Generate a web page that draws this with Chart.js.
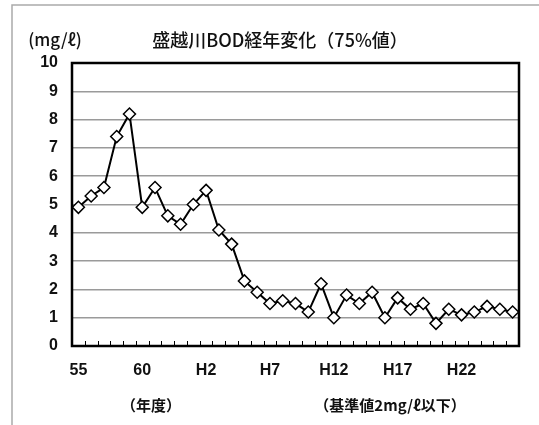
<!DOCTYPE html>
<html>
<head>
<meta charset="utf-8">
<script src="https://cdn.jsdelivr.net/npm/chart.js@4"></script>
<style>
  html, body { margin: 0; padding: 0; background: #fff; }
  #wrap { width: 539px; height: 425px; position: relative; }
</style>
</head>
<body>
<div id="wrap"><canvas id="bodChart" width="539" height="425"></canvas></div>
<script>
// fiscal years S55 .. H26
const years = ["55", "56", "57", "58", "59", "60", "61", "62", "63",
  "H1", "H2", "H3", "H4", "H5", "H6", "H7", "H8", "H9", "H10", "H11",
  "H12", "H13", "H14", "H15", "H16", "H17", "H18", "H19", "H20", "H21",
  "H22", "H23", "H24", "H25", "H26"];
// BOD 75% value (mg/l)
const bodValues = [4.9, 5.3, 5.6, 7.4, 8.2, 4.9, 5.6, 4.6, 4.3, 5.0,
  5.5, 4.1, 3.6, 2.3, 1.9, 1.5, 1.6, 1.5, 1.2, 2.2,
  1.0, 1.8, 1.5, 1.9, 1.0, 1.7, 1.3, 1.5, 0.8, 1.3,
  1.1, 1.2, 1.4, 1.3, 1.2];
const yTicks = [0, 1, 2, 3, 4, 5, 6, 7, 8, 9, 10];

const titleText = "盛越川BOD経年変化（75%値）";
const unitText = "(mg/ℓ)";
const xAxisText = "（年度）";
const noteText = "（基準値2mg/ℓ以下）";

const jpFont = '"Noto Sans CJK JP", "Noto Sans", sans-serif';
const numFont = '"Liberation Sans", Arial, sans-serif';

// outer frame, titles, inner ticks, plot border
const decorations = {
  id: "decorations",
  beforeDraw(chart) {
    const ctx = chart.ctx;
    ctx.save();
    ctx.strokeStyle = "#aaaaaa";
    ctx.lineWidth = 1.5;
    ctx.beginPath();
    ctx.moveTo(12, 425);
    ctx.lineTo(12, 5);
    ctx.lineTo(539, 5);
    ctx.stroke();

    ctx.fillStyle = "#111";
    ctx.textBaseline = "middle";
    ctx.textAlign = "center";
    ctx.font = "500 18px " + jpFont;
    ctx.fillText(titleText, 280, 40);
    ctx.font = "500 17px " + jpFont;
    ctx.fillText(unitText, 55, 40);
    ctx.font = "bold 15px " + jpFont;
    ctx.fillText(xAxisText, 151, 405);
    ctx.fillText(noteText, 390, 405);
    ctx.restore();
  },
  afterDatasetsDraw(chart) {
    const ctx = chart.ctx;
    const area = chart.chartArea;
    const xs = chart.scales.x;
    ctx.save();
    ctx.strokeStyle = "#000";
    ctx.lineWidth = 1;
    ctx.beginPath();
    for (let i = 0; i <= years.length; i++) {
      const px = Math.round(xs.getPixelForValue(i - 0.5)) + 0.5;
      ctx.moveTo(px, area.bottom);
      ctx.lineTo(px, area.bottom - 5);
    }
    ctx.stroke();
    ctx.lineWidth = 2.5;
    ctx.strokeRect(area.left, area.top, area.right - area.left, area.bottom - area.top);
    ctx.restore();
  }
};

const ctx = document.getElementById("bodChart").getContext("2d");
new Chart(ctx, {
  type: "line",
  data: {
    labels: years,
    datasets: [{
      data: bodValues,
      borderColor: "#000",
      borderWidth: 2,
      tension: 0,
      pointStyle: "rectRot",
      pointRadius: 6,
      pointBorderWidth: 1.5,
      pointBorderColor: "#000",
      pointBackgroundColor: "#fff"
    }]
  },
  options: {
    responsive: false,
    animation: false,
    layout: { padding: { top: 63, right: 20, left: 0, bottom: 0 } },
    plugins: {
      legend: { display: false },
      tooltip: { enabled: false }
    },
    scales: {
      x: {
        offset: true,
        grid: { display: false, drawTicks: false },
        border: { display: false },
        ticks: {
          autoSkip: false,
          maxRotation: 0,
          padding: 15,
          color: "#111",
          font: { family: numFont, size: 16, weight: "bold" },
          callback: (v, i) => (i % 5 === 0 ? years[i] : "")
        },
        afterFit: (s) => { s.height = 79; }
      },
      y: {
        min: 0,
        max: 10,
        afterBuildTicks: (s) => { s.ticks = yTicks.map((v) => ({ value: v })); },
        grid: { color: "#9a9a9a", lineWidth: 1.5, drawTicks: false },
        border: { display: false },
        ticks: {
          padding: 14,
          color: "#111",
          font: { family: numFont, size: 16, weight: "bold" }
        },
        afterFit: (s) => { s.width = 72; }
      }
    }
  },
  plugins: [decorations]
});
</script>
</body>
</html>
